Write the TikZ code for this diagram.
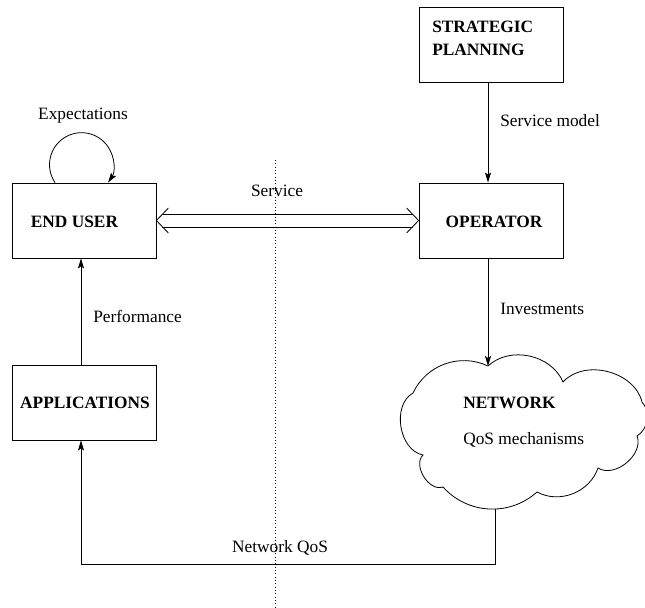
\documentclass[tikz,border=0pt]{standalone}
\usepackage{fontspec}
\setmainfont{Liberation Serif}
\usetikzlibrary{arrows.meta,calc}

\begin{document}
\begin{tikzpicture}[x=0.75pt,y=0.75pt,
  every node/.style={font=\fontsize{13}{17.25}\selectfont, inner sep=0pt},
  box/.style={draw, line width=0.6pt, minimum width=108pt, minimum height=56.25pt},
  title/.style={font=\fontsize{13}{17.25}\selectfont\bfseries, align=left},
  flow/.style={line width=0.6pt, -{Stealth[length=7.5pt,width=4.5pt,inset=1.5pt]}},
  rail/.style={line width=0.6pt},
  cloudline/.style={line width=0.6pt}]

\useasboundingbox (0,0) rectangle (645,607);

% boxes
\node[box] (eu)  at (84,386.5)  {};
\node[box] (op)  at (491,386.5) {};
\node[box] (sp)  at (491,562)   {};
\node[box] (app) at (84,204.5)  {};

\node[title] (eut)  at (74.5,385) {END USER};
\node[title] (opt)  at (494,385)  {OPERATOR};
\node[title] (appt) at (85,204)   {APPLICATIONS};
\node[title, anchor=west] (spt) at (432,568.5) {STRATEGIC\\PLANNING};

% network cloud
\coordinate (c1) at (413,214);
\coordinate (c2) at (488,241);
\coordinate (c3) at (563,225);
\coordinate (c4) at (642,205);
\coordinate (c5) at (637,171);
\coordinate (c6) at (598,139);
\coordinate (c7) at (537,115);
\coordinate (c8) at (443,120);
\coordinate (c9) at (423,152);
\draw[cloudline] (c1) to[bend left=45] (c2) to[bend left=55] (c3)
  to[bend left=62] (c4) to[bend left=50] (c5) to[bend left=72] (c6)
  to[bend left=50] (c7) to[bend left=45] (c8) to[bend left=78] (c9)
  to[bend left=70] (c1);
\coordinate (cloudbot) at (495,98);

\node[title, anchor=west] (net) at (463,204) {NETWORK};
\node[anchor=west] (qosm) at (463,167) {QoS mechanisms};

% dividing line
\coordinate (divtop) at (275,447);
\coordinate (divbot) at (275,0);
\draw[dotted, line width=0.5pt] (divtop) -- (divbot);

% two-way service link: double rail with open heads
\draw[rail] ($(eu.east)+(6,6.5)$) -- ($(op.west)+(-6,6.5)$);
\draw[rail] ($(eu.east)+(6,-6.5)$) -- ($(op.west)+(-6,-6.5)$);
\draw[rail] ($(eu.east)+(12,12.5)$) -- (eu.east) -- ($(eu.east)+(12,-12.5)$);
\draw[rail] ($(op.west)+(-12,12.5)$) -- (op.west) -- ($(op.west)+(-12,-12.5)$);
\node (servl) at (277,416) {Service};

\draw[flow] ($(eu.north)+(-29,0)$) arc[start angle=214, end angle=-34, radius=32];
\node (expl) at (83,491) {Expectations};

\draw[flow] (sp.south -| 488,0) -- (op.north -| 488,0);
\node[anchor=west] (sml) at (500,486) {Service model};

\draw[flow] (op.south -| c2) -- (c2);
\node[anchor=west] (invl) at (500,298) {Investments};

\draw[flow] (app.north -| 81,0) -- (eu.south -| 81,0);
\node[anchor=west] (perfl) at (93,291) {Performance};

\coordinate (qosc) at (81,43);
\draw[flow] (cloudbot) |- (qosc) -- (app.south -| qosc);
\node (qosl) at (280,59) {Network QoS};

\end{tikzpicture}
\end{document}
